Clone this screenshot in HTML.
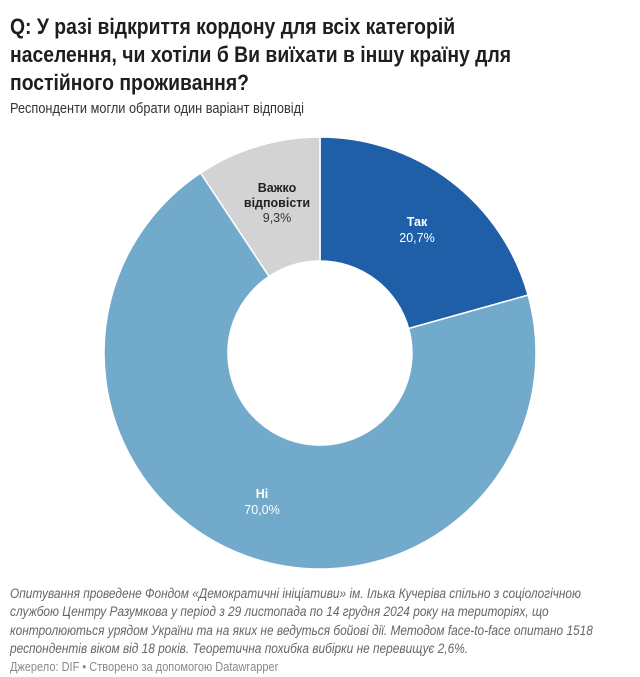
<!DOCTYPE html>
<html><head><meta charset="utf-8"><style>
body{margin:0;background:#fff;width:640px;height:677px;overflow:hidden;font-family:"Liberation Sans",sans-serif;color:#222}
.t{position:absolute;left:10px;top:13px;font-weight:bold;font-size:22px;line-height:28px;transform:scaleX(0.88);transform-origin:0 0;white-space:nowrap;color:#1e1e1e}
.s{position:absolute;left:10px;top:101px;font-size:14.5px;transform:scaleX(0.88);transform-origin:0 0;white-space:nowrap;color:#333}
.n{position:absolute;left:10px;top:585px;font-size:13.5px;line-height:18.3px;font-style:italic;color:#666;transform:scaleX(0.88);transform-origin:0 0;white-space:nowrap}
.src{position:absolute;left:10px;top:660px;font-size:12.5px;color:#888;transform:scaleX(0.88);transform-origin:0 0;white-space:nowrap}
svg{position:absolute;left:0;top:0}
</style></head><body>
<div class="t">Q: У разі відкриття кордону для всіх категорій<br>населення, чи хотіли б Ви виїхати в іншу країну для<br>постійного проживання?</div>
<div class="s">Респонденти могли обрати один варіант відповіді</div>
<svg width="640" height="677">
<g stroke="#fff" stroke-width="1.5">
<path d="M320,137 A216,216 0 0 1 528.1,295.1 L408.6,328.5 A92,92 0 0 0 320,261 Z" fill="#1f5fa8"/>
<path d="M528.1,295.1 A216,216 0 1 1 200.6,173.0 L269.1,276.4 A92,92 0 1 0 408.6,328.5 Z" fill="#72aacc"/>
<path d="M200.6,173.0 A216,216 0 0 1 320,137 L320,261 A92,92 0 0 0 269.1,276.4 Z" fill="#d3d3d3"/>
</g>
<g font-family="Liberation Sans,sans-serif" font-size="12.5" text-anchor="middle">
<text x="417" y="226" fill="#fff" font-weight="bold">Так</text>
<text x="417" y="242" fill="#fff">20,7%</text>
<text x="262" y="498" fill="#fff" font-weight="bold">Ні</text>
<text x="262" y="514" fill="#fff">70,0%</text>
<text x="277" y="192" fill="#222" font-weight="bold">Важко</text>
<text x="277" y="207" fill="#222" font-weight="bold">відповісти</text>
<text x="277" y="222" fill="#333">9,3%</text>
</g>
</svg>
<div class="n">Опитування проведене Фондом «Демократичні ініціативи» ім. Ілька Кучеріва спільно з соціологічною<br>службою Центру Разумкова у період з 29 листопада по 14 грудня 2024 року на територіях, що<br>контролюються урядом України та на яких не ведуться бойові дії. Методом face-to-face опитано 1518<br>респондентів віком від 18 років. Теоретична похибка вибірки не перевищує 2,6%.</div>
<div class="src">Джерело: DIF • Створено за допомогою Datawrapper</div>
</body></html>
